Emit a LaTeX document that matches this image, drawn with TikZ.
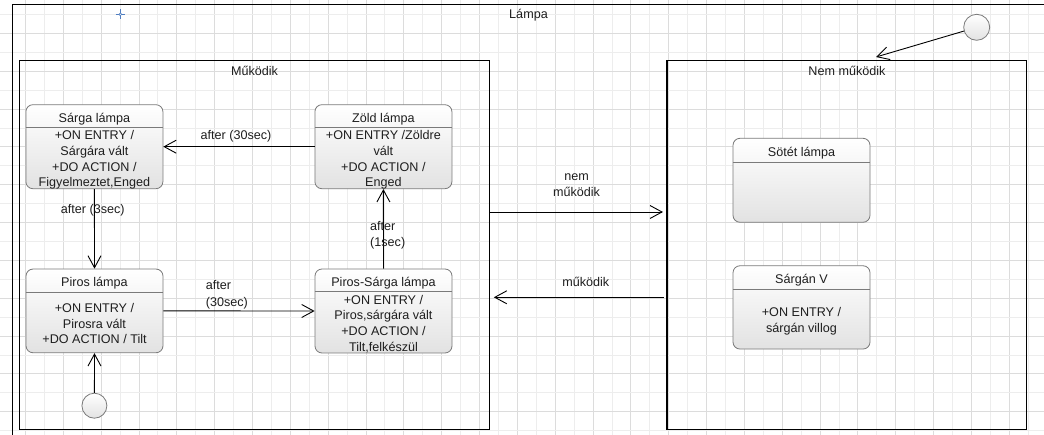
\documentclass[tikz,border=0pt]{standalone}
\usepackage{fontspec}
\setmainfont{Liberation Sans}
\usetikzlibrary{arrows.meta,calc}
\definecolor{txt}{HTML}{1E1E1E}
\definecolor{gridA}{HTML}{EDEDED}
\definecolor{gridB}{HTML}{DCDCDC}
\definecolor{stborder}{HTML}{7A7A7A}
\definecolor{stfill}{HTML}{E2E2E2}
\definecolor{xblue}{HTML}{4F7DC0}
\begin{document}
\begin{tikzpicture}[x=1pt,y=-1pt,
  lbl/.style={font=\fontsize{12.6}{15.7}\selectfont, text=txt, inner sep=0pt, align=center},
  stbox/.style={draw=stborder, line width=0.8pt, rounded corners=7pt, top color=white, bottom color=stfill, inner sep=0pt, minimum width=137pt},
  frm/.style={draw=black, line width=1.1pt, inner sep=0pt},
  hdr/.style={draw=stborder, line width=0.8pt},
  tr/.style={draw=black, line width=0.9pt, -{Straight Barb[length=12pt,width=13pt]}},
  ini/.style={circle, draw=stborder, top color=white, bottom color=stfill, line width=0.8pt, minimum size=25pt, inner sep=0pt}]
\useasboundingbox (0,0) rectangle (1044,435);
\clip (0,0) rectangle (1044,435);
\fill[white] (0,0) rectangle (1044,435);
% grid
\foreach \k in {2,4,...,54} {\draw[gridA, line width=0.8pt] ({6.46+18.92*\k},0) -- ({6.46+18.92*\k},435);}
\foreach \k in {1,3,...,55} {\draw[gridB, line width=0.8pt] ({6.46+18.92*\k},0) -- ({6.46+18.92*\k},435);}
\foreach \k in {0,2,...,22} {\draw[gridA, line width=0.8pt] (0,{14.4+18.92*\k}) -- (1044,{14.4+18.92*\k});}
\foreach \k in {1,3,...,21} {\draw[gridB, line width=0.8pt] (0,{14.4+18.92*\k}) -- (1044,{14.4+18.92*\k});}
% blue cross
\draw[xblue, line width=0.8pt] (115.5,14.3) -- (125.1,14.3) (120.3,9.5) -- (120.3,19.1);
\draw[xblue, line width=0.6pt, fill=white] (120.3,14.3) circle (1.4);
% outer frame
\node[frm, minimum width=1045pt, minimum height=445pt, anchor=north west] (lampa) at (11.7,4.3) {};
\node[lbl] (lampaT) at (528.5,15) {Lámpa};
% composite frames
\node[frm, minimum width=470pt, minimum height=368.6pt] (mukodik) at (254.3,245) {};
\node[lbl] (mukodikT) at (254.5,70.7) {Működik};
\node[frm, minimum width=359.8pt, minimum height=368.6pt] (nem) at (846.9,245) {};
\node[lbl] (nemT) at (847,70.7) {Nem működik};
% states
\node[stbox, minimum height=84pt] (sarga) at (94.4,146.7) {};
\node[stbox, minimum height=84pt] (zold) at (383.4,146.7) {};
\node[stbox, minimum height=83.7pt] (piros) at (94.5,310.9) {};
\node[stbox, minimum height=84pt] (ps) at (383.5,311) {};
\node[stbox, minimum height=84pt] (sotet) at (801.5,180.3) {};
\node[stbox, minimum height=83.3pt] (sargav) at (801.5,307.4) {};
\foreach \s/\h in {sarga/23.2, zold/23.2, piros/23.3, ps/23.3, sotet/24.3, sargav/23.6} {
  \draw[hdr] ($(\s.north west)+(0,\h)$) -- ($(\s.north east)+(0,\h)$);
}
% titles
\node[lbl, anchor=base] (sargaT) at ($(sarga.north)+(0,18.3)$) {Sárga lámpa};
\node[lbl, anchor=base] (zoldT) at ($(zold.north)+(0,18.3)$) {Zöld lámpa};
\node[lbl, anchor=base] (pirosT) at ($(piros.north)+(0,18.3)$) {Piros lámpa};
\node[lbl, anchor=base] (psT) at ($(ps.north)+(0,18.3)$) {Piros-Sárga lámpa};
\node[lbl, anchor=base] (sotetT) at ($(sotet.north)+(0,18.8)$) {Sötét lámpa};
\node[lbl, anchor=base] (sargavT) at ($(sargav.north)+(0,18.3)$) {Sárgán V};
% bodies
\node[lbl] (sargaB) at ($(sarga.south)+(0,-29)$) {+ON ENTRY /\\Sárgára vált\\+DO ACTION /\\Figyelmeztet,Enged};
\node[lbl] (zoldB) at ($(zold.south)+(0,-29)$) {+ON ENTRY /Zöldre\\vált\\+DO ACTION /\\Enged};
\node[lbl] (pirosB) at ($(piros.south)+(0,-29.5)$) {+ON ENTRY /\\Pirosra vált\\+DO ACTION / Tilt};
\node[lbl] (psB) at ($(ps.south)+(0,-29.5)$) {+ON ENTRY /\\Piros,sárgára vált\\+DO ACTION /\\Tilt,felkészül};
\node[lbl] (sargavB) at ($(sargav.south)+(0,-28.5)$) {+ON ENTRY /\\sárgán villog};
% initial states
\node[ini] (ini1) at (94.4,405.7) {};
\node[ini, minimum size=26pt] (ini2) at (976.7,27.3) {};
\coordinate (nemtip) at (876,57);
% transitions
\draw[tr] (zold.west) -- (sarga.east);
\draw[tr] (sarga.south) -- (piros.north);
\draw[tr] (piros.east) -- (ps.west);
\draw[tr] (ps.north) -- (zold.south);
\draw[tr] (ini1) -- (piros.south);
\draw[tr] (ini2) -- (nemtip);
\coordinate (ya) at (0,212);
\coordinate (yb) at (0,297.3);
\draw[tr, shorten >=3.5pt] (mukodik.east |- ya) -- (nem.west |- ya);
\draw[tr, shorten <=2.5pt, shorten >=4pt] (nem.west |- yb) -- (mukodik.east |- yb);
% transition labels
\node[lbl] (l1) at (236,136.7) {after (30sec)};
\node[lbl] (l2) at (92.8,210) {after (3sec)};
\node[lbl, align=left, anchor=west] (l3) at (205.7,295) {after\\[0.9pt](30sec)};
\node[lbl, align=left, anchor=west] (l4) at (370,235.5) {after\\(1sec)};
\node[lbl] (l5) at (576.5,185.5) {nem\\működik};
\node[lbl] (l6) at (585.8,282.3) {működik};
\end{tikzpicture}
\end{document}
